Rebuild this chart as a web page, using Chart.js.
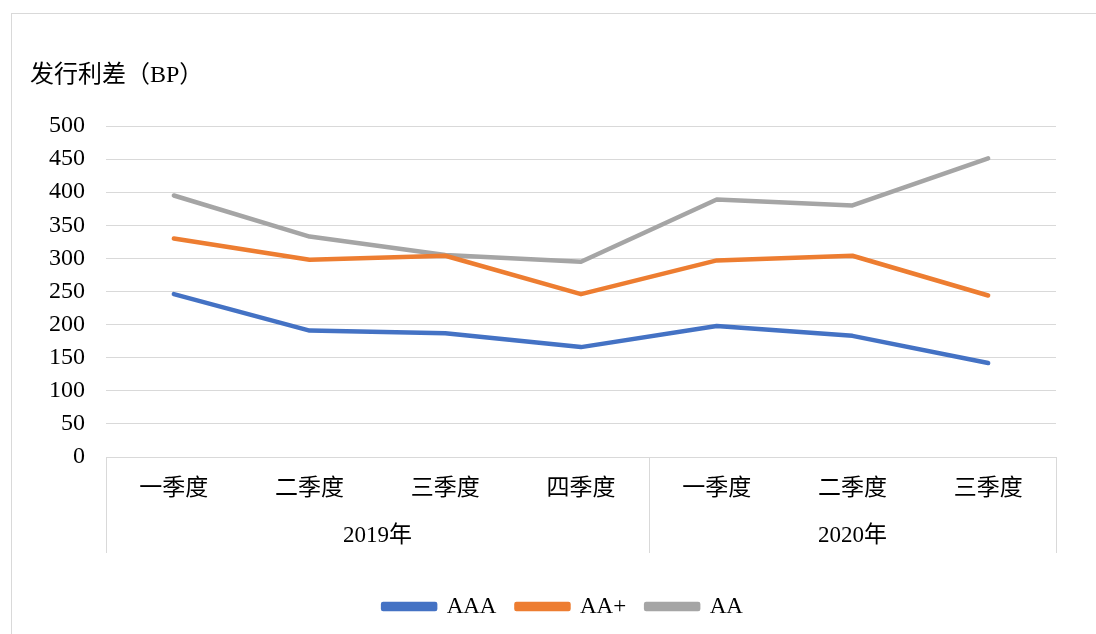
<!DOCTYPE html>
<html>
<head>
<meta charset="utf-8">
<script src="https://cdn.jsdelivr.net/npm/chart.js@4"></script>
<style>
  html, body { margin: 0; padding: 0; background: #fff; }
  #wrap { width: 1096px; height: 634px; position: relative; }
</style>
</head>
<body>
<div id="wrap"><canvas id="spreadChart" width="1096" height="634"></canvas></div>
<script>
// 发行利差 by rating, quarterly
const quarters = ["一季度", "二季度", "三季度", "四季度", "一季度", "二季度", "三季度"];
const years = ["2019年", "2020年"];
const yearSpans = [4, 3];
const aaa = [246, 191, 187, 166, 198, 183, 142];
const aaPlus = [330, 298, 304, 246, 297, 304, 244];
const aa = [395, 333, 305, 295, 389, 380, 451];
const yMax = 500;
const yStep = 50;

const serif = "'Liberation Serif', 'Times New Roman', 'Noto Sans CJK SC', serif";
const gridColor = "#d9d9d9";

const frame = {
  id: "frame",
  afterLayout(chart) {
    // legend sits a bit right of centre in the original
    if (chart.legend) {
      chart.legend.left += 35;
      chart.legend.right += 35;
    }
  },
  beforeDraw(chart) {
    const c = chart.ctx;
    c.save();
    c.strokeStyle = gridColor;
    c.lineWidth = 1;
    c.strokeRect(11.5, 13.5, 2000, 2000);
    c.restore();
  },
  afterDraw(chart) {
    const c = chart.ctx;
    const x = chart.scales.x;
    const top = chart.chartArea.bottom;
    const bottom = top + 96;
    c.save();
    // axis title
    c.font = "24px " + serif;
    c.fillStyle = "#000";
    c.textBaseline = "middle";
    c.textAlign = "left";
    c.fillText("发行利差（BP）", 30, 76);

    // group separators and year labels
    c.strokeStyle = gridColor;
    c.lineWidth = 1;
    let start = 0;
    const edges = [start];
    yearSpans.forEach(n => { start += n; edges.push(start); });
    edges.forEach(e => {
      const px = Math.round(x.getPixelForValue(e - 0.5)) + 0.5;
      c.beginPath();
      c.moveTo(px, top);
      c.lineTo(px, bottom);
      c.stroke();
    });
    c.font = "23px " + serif;
    c.textAlign = "center";
    years.forEach((yr, i) => {
      const a = x.getPixelForValue(edges[i] - 0.5);
      const b = x.getPixelForValue(edges[i + 1] - 0.5);
      c.fillText(yr, (a + b) / 2, top + 79);
    });
    c.restore();
  }
};

const ctx = document.getElementById("spreadChart").getContext("2d");
new Chart(ctx, {
  type: "line",
  data: {
    labels: quarters,
    datasets: [
      { label: "AAA", data: aaa, borderColor: "#4472C4", backgroundColor: "#4472C4" },
      { label: "AA+", data: aaPlus, borderColor: "#ED7D31", backgroundColor: "#ED7D31" },
      { label: "AA", data: aa, borderColor: "#A5A5A5", backgroundColor: "#A5A5A5" }
    ]
  },
  options: {
    responsive: false,
    animation: false,
    devicePixelRatio: 1,
    elements: {
      line: { borderWidth: 4.5, tension: 0, borderCapStyle: "round", borderJoinStyle: "round" },
      point: { radius: 0, hoverRadius: 0 }
    },
    layout: { padding: { left: 0, right: 40, top: 126, bottom: 6 } },
    plugins: {
      tooltip: { enabled: false },
      legend: {
        position: "bottom",
        labels: {
          font: { family: serif, size: 23 },
          color: "#000",
          boxWidth: 52,
          boxHeight: 5,
          padding: 20
        }
      }
    },
    scales: {
      x: {
        offset: true,
        grid: { display: false },
        border: { display: false },
        ticks: { font: { family: serif, size: 23 }, color: "#000", padding: 10, maxRotation: 0 },
        afterFit(scale) { scale.height = 118; }
      },
      y: {
        min: 0,
        max: yMax,
        grid: { color: gridColor, lineWidth: 1, drawTicks: false },
        border: { display: false },
        ticks: { stepSize: yStep, font: { family: serif, size: 24 }, color: "#000", padding: 21 },
        afterFit(scale) { scale.width = 106; }
      }
    }
  },
  plugins: [frame]
});
</script>
</body>
</html>
